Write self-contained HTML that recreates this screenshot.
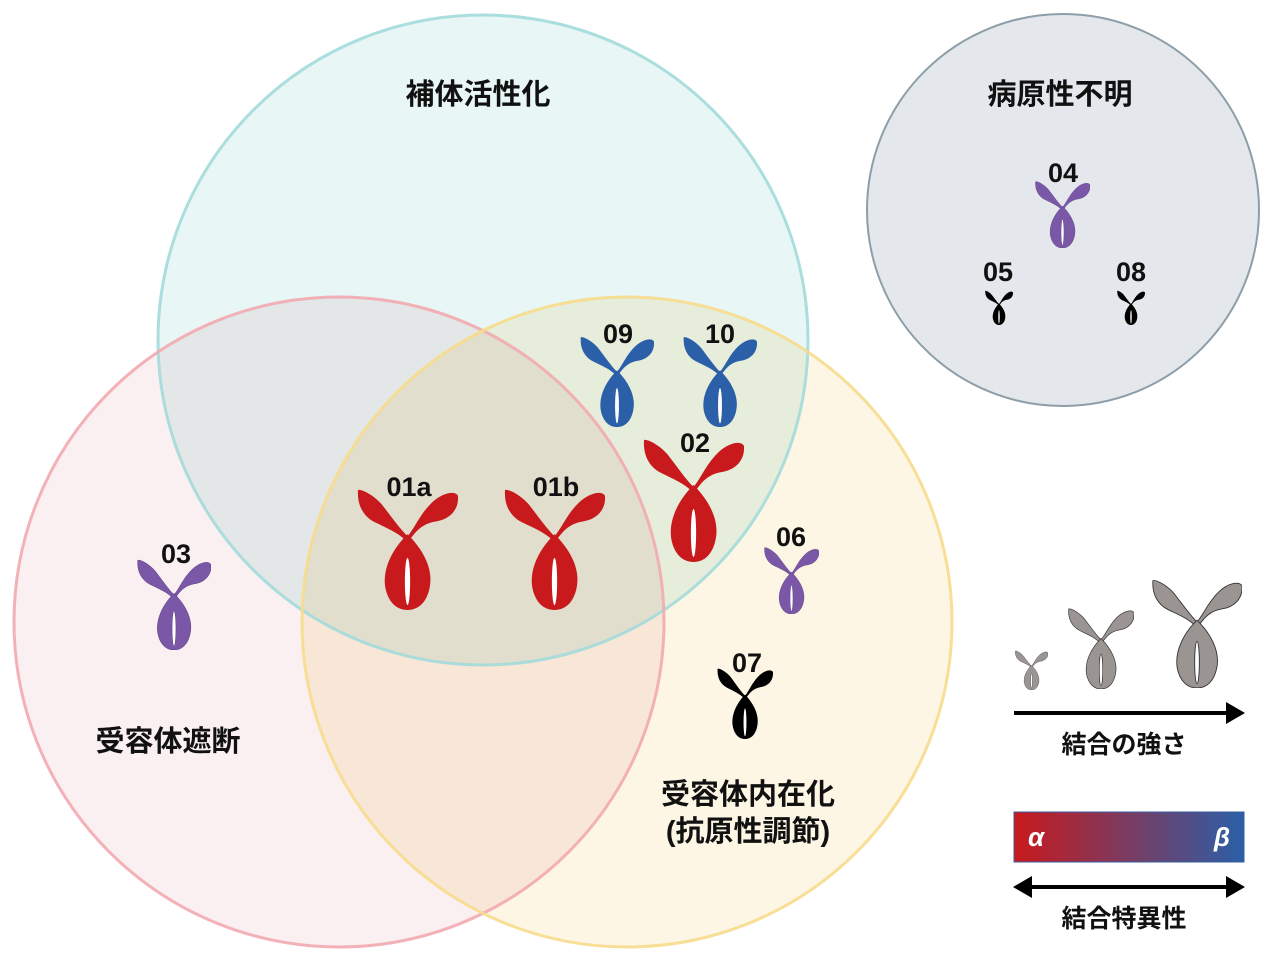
<!DOCTYPE html>
<html><head><meta charset="utf-8"><style>
body{margin:0;background:#fff}
svg text{font-family:"Liberation Sans","Noto Sans CJK JP",sans-serif;}
</style></head><body>
<svg width="1280" height="967" viewBox="0 0 1280 967" xmlns="http://www.w3.org/2000/svg">
<defs>
<symbol id="ab" viewBox="0 0 100 125" preserveAspectRatio="none">
<path d="M50,50 C42,42 34,30 24,17 C15,7 4,2 1,3 C0,18 6,30 18,36 C30,42 40,46 48,54 Z"/>
<path d="M50,50 C57,42 62,28 74,16 C84,6 97,3 100,9 C101,24 91,33 78,35 C65,37 58,45 52,54 Z"/>
<path d="M50,48 C64,62 76,82 72,102 C69,118 60,125 50,125 C40,125 31,118 28,102 C25,82 36,62 50,48 Z"/>
<ellipse cx="50" cy="96" rx="2.6" ry="24" fill="#fff"/>
</symbol>
</defs>
<circle cx="483" cy="340" r="325" fill="#e8f6f5" style="mix-blend-mode:multiply"/>
<circle cx="339" cy="622" r="325" fill="#faf0f1" style="mix-blend-mode:multiply"/>
<circle cx="627" cy="622" r="325" fill="#fdf6e4" style="mix-blend-mode:multiply"/>
<circle cx="483" cy="340" r="325" fill="none" stroke="#a3dada" stroke-width="3" opacity="0.9"/>
<circle cx="339" cy="622" r="325" fill="none" stroke="#f2aab0" stroke-width="3" opacity="0.9"/>
<circle cx="627" cy="622" r="325" fill="none" stroke="#f7dc8c" stroke-width="3" opacity="0.9"/>
<circle cx="1063" cy="210" r="196" fill="#e4e8ec" stroke="#8d9ea9" stroke-width="2"/>

<g font-size="29" font-weight="bold" fill="#111" text-anchor="middle">
<text x="478" y="104">補体活性化</text>
<text x="1060" y="104">病原性不明</text>
<text x="168" y="751">受容体遮断</text>
<text x="748" y="804">受容体内在化</text>
<text x="748" y="841">(抗原性調節)</text>
</g>

<g fill="#c8191d">
<use href="#ab" x="357" y="487" width="101" height="123"/>
<use href="#ab" x="504" y="487" width="101" height="123"/>
<use href="#ab" x="643" y="437" width="101" height="125"/>
</g>
<g fill="#2b5fa8">
<use href="#ab" x="580" y="335" width="74" height="92"/>
<use href="#ab" x="683" y="335" width="74" height="92"/>
</g>
<g fill="#7b57a8" stroke="#4a3070" stroke-width="0.6">
<use href="#ab" x="137" y="558" width="74" height="92"/>
<use href="#ab" x="764" y="546" width="55" height="68"/>
<use href="#ab" x="1035" y="180" width="55" height="68"/>
</g>
<g fill="#000">
<use href="#ab" x="985" y="290" width="28" height="35"/>
<use href="#ab" x="1117" y="290" width="28" height="35"/>
<use href="#ab" x="717" y="667" width="56" height="72"/>
</g>
<g fill="#9a9493" stroke="#333" stroke-width="1">
<use href="#ab" x="1015" y="650" width="33" height="40"/>
<use href="#ab" x="1068" y="607" width="66" height="82"/>
<use href="#ab" x="1152" y="578" width="90" height="110"/>
</g>

<g font-size="27" font-weight="bold" fill="#111" text-anchor="middle">
<text x="409" y="496">01a</text>
<text x="556" y="496">01b</text>
<text x="695" y="452">02</text>
<text x="618" y="343">09</text>
<text x="720" y="343">10</text>
<text x="176" y="563">03</text>
<text x="791" y="546">06</text>
<text x="1063" y="182">04</text>
<text x="998" y="281">05</text>
<text x="1131" y="281">08</text>
<text x="747" y="672">07</text>
</g>

<line x1="1014" y1="713" x2="1228" y2="713" stroke="#000" stroke-width="4"/>
<polygon points="1245,713 1226,702 1226,724" fill="#000"/>
<text x="1124" y="753" font-size="25" font-weight="bold" text-anchor="middle" fill="#111">結合の強さ</text>

<defs><linearGradient id="g" x1="0" x2="1"><stop offset="0" stop-color="#c8191d"/><stop offset="0.5" stop-color="#7a3c62"/><stop offset="1" stop-color="#2b5fa8"/></linearGradient></defs>
<rect x="1014" y="812" width="230" height="50" fill="url(#g)" stroke="#3a5ca0" stroke-width="1"/>
<text x="1036" y="846" font-size="26" font-style="italic" font-weight="bold" fill="#fff" text-anchor="middle">α</text>
<text x="1222" y="846" font-size="26" font-style="italic" font-weight="bold" fill="#fff" text-anchor="middle">β</text>

<line x1="1030" y1="887" x2="1228" y2="887" stroke="#000" stroke-width="4"/>
<polygon points="1245,887 1226,876 1226,898" fill="#000"/>
<polygon points="1013,887 1032,876 1032,898" fill="#000"/>
<text x="1124" y="927" font-size="25" font-weight="bold" text-anchor="middle" fill="#111">結合特異性</text>
</svg>
</body></html>
